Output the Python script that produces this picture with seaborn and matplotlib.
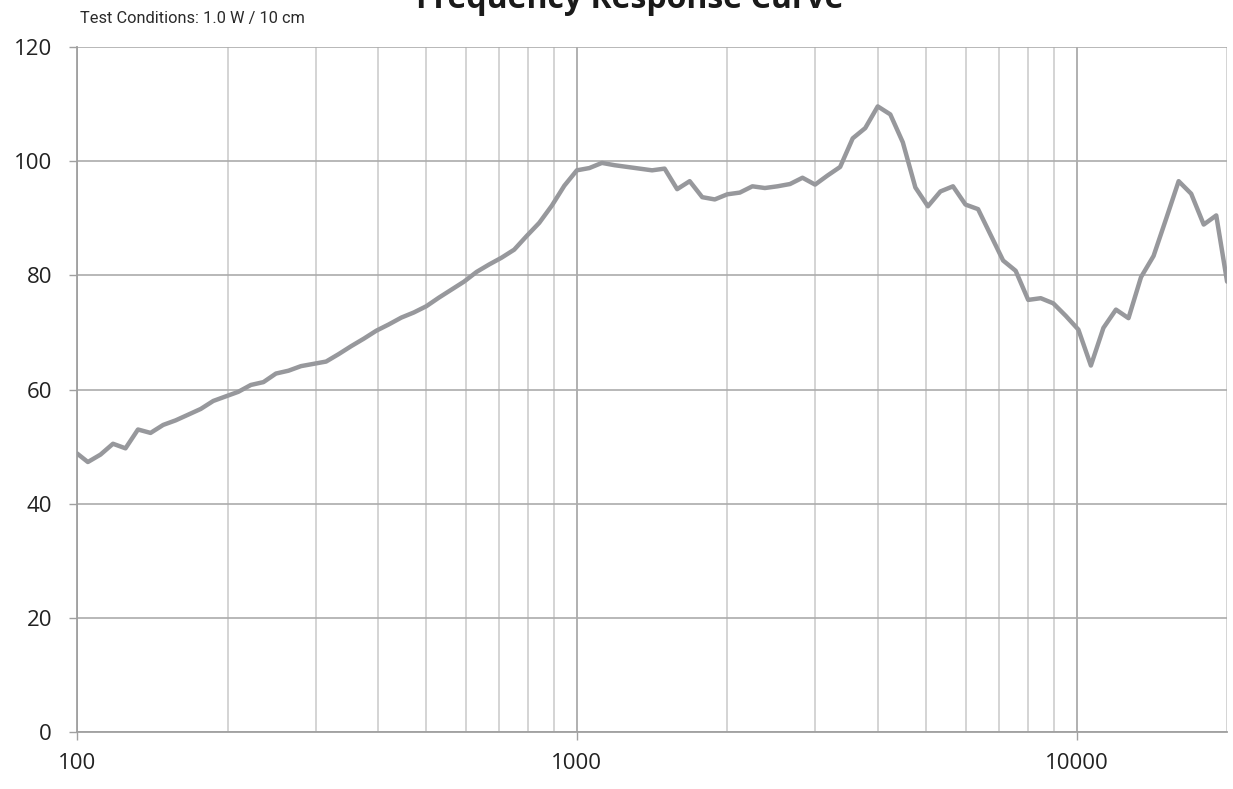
import numpy as np
import pandas as pd
import matplotlib
matplotlib.use("Agg")
import matplotlib.pyplot as plt
import matplotlib.ticker as mticker
import seaborn as sns

# 1. --- Data (1/12 octave points) ---
freq_hz = [
    100, 105.1, 111.4, 118.0, 125.0, 132.4, 140.3, 148.7, 157.5, 166.9,
    176.8, 187.3, 198.4, 210.2, 222.7, 236.0, 250, 264.9, 280.6, 297.3,
    315.0, 333.7, 353.6, 374.6, 396.9, 420.4, 445.4, 471.9, 500, 529.7,
    561.2, 594.6, 630, 667.4, 707.1, 749.2, 793.7, 840.9, 890.9, 943.9,
    1000, 1059.5, 1122.5, 1189.2, 1259.9, 1334.8, 1414.2, 1498.3, 1587.4, 1681.8,
    1781.8, 1887.7, 2000, 2119, 2245, 2378, 2520, 2670, 2828, 2997,
    3175, 3364, 3564, 3776, 4000, 4238, 4490, 4757, 5040, 5339,
    5657, 5993, 6350, 6727, 7127, 7551, 8000, 8476, 8980, 9514,
    10080, 10679, 11314, 11986, 12699, 13454, 14254, 15102, 16000, 16951,
    17959, 19027, 20000,
]
spl_db = [
    48.8, 47.3, 48.6, 50.5, 49.7, 53.0, 52.4, 53.8, 54.6, 55.6,
    56.6, 58.0, 58.8, 59.6, 60.8, 61.3, 62.8, 63.3, 64.1, 64.5,
    64.9, 66.2, 67.6, 68.9, 70.3, 71.4, 72.6, 73.5, 74.6, 76.1,
    77.5, 78.9, 80.6, 81.9, 83.1, 84.5, 86.9, 89.2, 92.2, 95.7,
    98.4, 98.8, 99.7, 99.3, 99.0, 98.7, 98.4, 98.7, 95.1, 96.5,
    93.7, 93.3, 94.2, 94.5, 95.6, 95.3, 95.6, 96.0, 97.1, 95.9,
    97.5, 99.0, 104.0, 105.8, 109.6, 108.2, 103.3, 95.4, 92.1, 94.7,
    95.6, 92.4, 91.6, 87.1, 82.6, 80.8, 75.7, 76.0, 75.1, 72.9,
    70.5, 64.2, 70.8, 74.0, 72.5, 79.7, 83.4, 89.9, 96.5, 94.3,
    88.9, 90.5, 78.9,
]
x_ticks = [100, 1000, 10000]
y_ticks = [0, 20, 40, 60, 80, 100, 120]

df = pd.DataFrame({"freq": freq_hz, "spl": spl_db})

# 2. --- Style ---
sns.set_style("white")
plt.rcParams["font.family"] = ["Open Sans", "DejaVu Sans"]

fig = plt.figure(figsize=(12.33, 7.89), dpi=100)
ax = fig.add_axes([0.0625, 0.0722, 0.9327, 0.8682])

# 3. --- Plot ---
sns.lineplot(data=df, x="freq", y="spl", ax=ax, color="#97989c", linewidth=3.2, zorder=3)

ax.set_xscale("log")
ax.set_xlim(100, 20000)
ax.set_ylim(0, 120)
ax.set_xticks(x_ticks)
ax.xaxis.set_major_formatter(mticker.FuncFormatter(lambda v, p: f"{int(v)}"))
ax.xaxis.set_minor_locator(mticker.LogLocator(base=10, subs=np.arange(2, 10)))
ax.xaxis.set_minor_formatter(mticker.NullFormatter())
ax.set_yticks(y_ticks)

ax.grid(True, which="major", axis="x", color="#a3a3a3", linewidth=1.2)
ax.grid(True, which="minor", axis="x", color="#cdcdcd", linewidth=1.2)
ax.grid(True, which="major", axis="y", color="#acacac", linewidth=1.2)
ax.set_axisbelow(True)

for side in ["top", "right"]:
    ax.spines[side].set_visible(False)
for side in ["left", "bottom"]:
    ax.spines[side].set_color("#a0a0a0")
    ax.spines[side].set_linewidth(1.3)

ax.tick_params(axis="y", which="major", length=6, width=1, color="#a0a0a0",
               labelsize=16, labelcolor="#222222", pad=12, left=True)
ax.tick_params(axis="x", which="major", length=6, width=1, color="#a0a0a0",
               labelsize=16, labelcolor="#222222", pad=9, bottom=True)
ax.tick_params(axis="x", which="minor", length=0)
ax.set_xlabel("")
ax.set_ylabel("")

# Titles (main title runs off the top edge like the reference)
fig.text(0.511, 1.0, "Frequency Response Curve", ha="center", va="center",
         fontsize=23, fontweight="bold", color="#1a1a1a")
fig.text(0.0645, 0.977, "Test Conditions: 1.0 W / 10 cm", ha="left", va="center",
         fontsize=11.8, color="#2a2a2a", family=["Roboto", "DejaVu Sans"])

fig.savefig("out.png", dpi=100)
